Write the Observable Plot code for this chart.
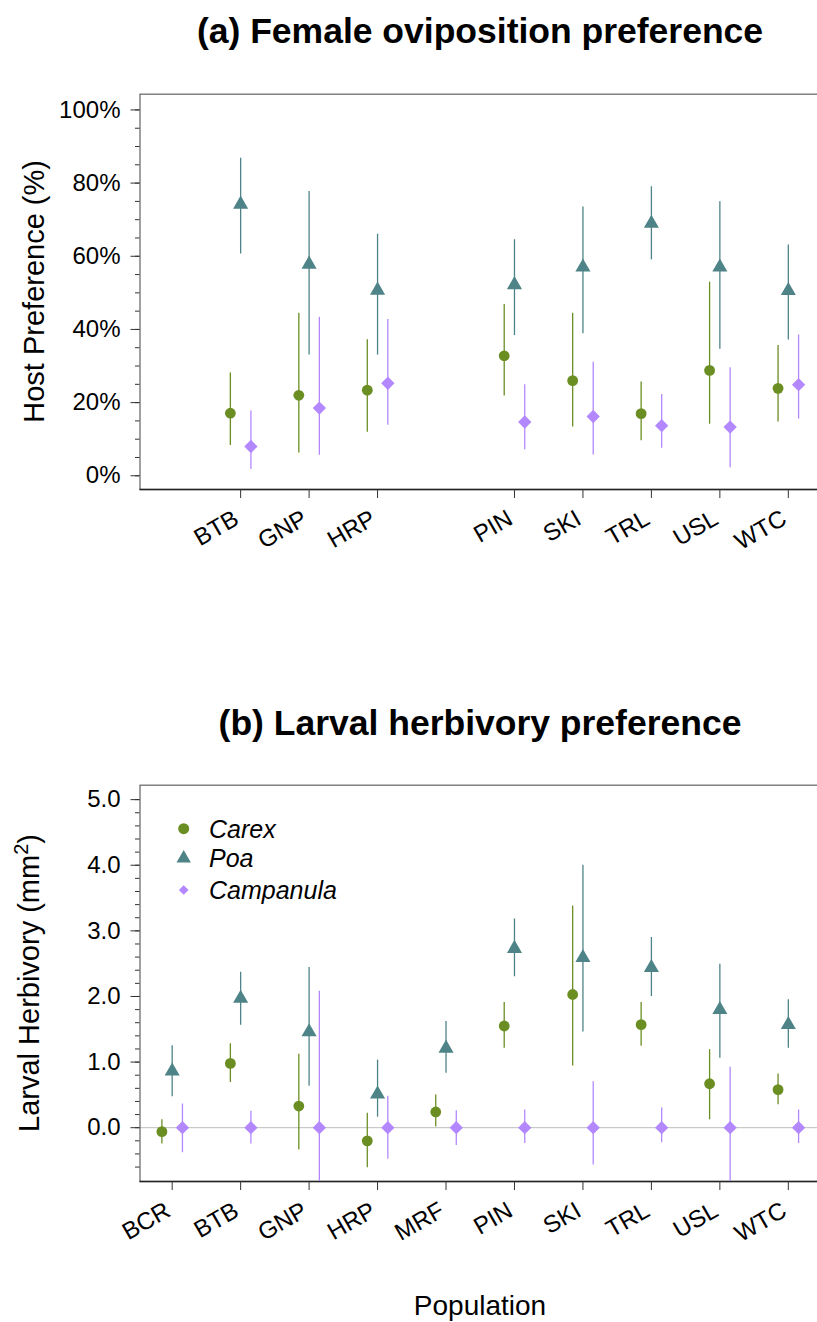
<!DOCTYPE html>
<html><head><meta charset="utf-8">
<script src="https://cdn.jsdelivr.net/npm/d3@7"></script>
<script src="https://cdn.jsdelivr.net/npm/@observablehq/plot@0.6"></script>
<style>
html,body{margin:0;padding:0;background:#fff;overflow:hidden}
#page{position:relative;width:817px;height:1322px;overflow:hidden;background:#fff;font-family:"Liberation Sans",Arial,sans-serif}
#page svg{position:absolute;left:0;max-width:none !important}
</style></head><body><div id="page"></div>
<script>
// ---------------- data ----------------
const populations = ["BCR","BTB","GNP","HRP","MRF","PIN","SKI","TRL","USL","WTC"];
const oviPopulations = ["BTB","GNP","HRP","PIN","SKI","TRL","USL","WTC"];
const hosts = ["Carex","Poa","Campanula"];

// (a) female oviposition preference, %
const oviCarex   = [17.1, 22.0, 23.4, 32.8, 26.0, 17.0, 28.8, 23.9];
const oviCarexLo = [ 8.3,  6.2, 11.9, 21.8, 13.3,  9.6, 14.1, 14.7];
const oviCarexHi = [28.1, 44.4, 37.2, 46.8, 44.4, 25.6, 52.9, 35.6];
const oviPoa     = [74.2, 57.8, 50.7, 52.2, 57.0, 69.0, 57.0, 50.6];
const oviPoaLo   = [60.6, 33.0, 33.0, 38.3, 38.8, 59.0, 34.6, 37.1];
const oviPoaHi   = [86.8, 77.7, 66.0, 64.5, 73.5, 79.0, 74.9, 63.1];
const oviCamp    = [ 8.0, 18.5, 25.3, 14.7, 16.2, 13.7, 13.3, 24.9];
const oviCampLo  = [ 1.7,  5.6, 13.8,  7.1,  5.7,  7.5,  2.2, 15.5];
const oviCampHi  = [17.7, 43.3, 42.7, 24.9, 31.0, 22.2, 29.5, 38.5];

// (b) larval herbivory, mm^2
const larCarex   = [-0.06, 0.98, 0.33, -0.20, 0.24, 1.55, 2.03, 1.57, 0.67, 0.58];
const larCarexLo = [-0.25, 0.69, -0.34, -0.61, 0.01, 1.21, 0.94, 1.24, 0.12, 0.35];
const larCarexHi = [ 0.12, 1.28, 1.12,  0.22, 0.50, 1.91, 3.38, 1.91, 1.19, 0.82];
const larPoa     = [ 0.86, 1.97, 1.46,  0.51, 1.21, 2.73, 2.59, 2.44, 1.80, 1.57];
const larPoaLo   = [ 0.47, 1.56, 0.63,  0.16, 0.83, 2.30, 1.46, 2.00, 1.06, 1.21];
const larPoaHi   = [ 1.25, 2.37, 2.44,  1.03, 1.62, 3.18, 4.00, 2.90, 2.49, 1.95];
const larCamp    = [ 0, 0, 0, 0, 0, 0, 0, 0, 0, 0];
const larCampLo  = [-0.38, -0.25, -1.00, -0.48, -0.27, -0.24, -0.57, -0.23, -1.00, -0.24];
const larCampHi  = [ 0.36,  0.25,  2.08,  0.48,  0.26,  0.27,  0.70,  0.30,  0.92,  0.27];

const oviYTicks = [0, 20, 40, 60, 80, 100];
const larYTicks = [0, 1, 2, 3, 4, 5];

// ---------------- styles ----------------
const colors  = ["#6b8e23", "#4e8387", "#b388ff"];
const symbols = ["circle", "triangle", "diamond2"];
const offsets = [-0.15, 0, 0.15];
const radii   = [5.4, 5.6, 6.0];
const FONT = "Liberation Sans, Arial, Helvetica, sans-serif";

function buildRows(pops, series) {
  const rows = [];
  series.forEach(([v, lo, hi], k) => {
    pops.forEach((p, j) => rows.push({
      pop: p, host: hosts[k],
      xi: populations.indexOf(p) + 1 + offsets[k],
      v: v[j], lo: lo[j], hi: hi[j]
    }));
  });
  return rows;
}

const oviRows = buildRows(oviPopulations, [[oviCarex, oviCarexLo, oviCarexHi], [oviPoa, oviPoaLo, oviPoaHi], [oviCamp, oviCampLo, oviCampHi]]);
const larRows = buildRows(populations, [[larCarex, larCarexLo, larCarexHi], [larPoa, larPoaLo, larPoaHi], [larCamp, larCampLo, larCampHi]]);

const W = 824, ML = 139.5, MR = 4;
const xDomain = [0.53, 10.47];

function panel({rows, pops, height, marginTop, marginBottom, yDomain, yTicks, yMinor, yFormat, zeroLine}) {
  const tickRows = pops.map(p => ({pop: p, xi: populations.indexOf(p) + 1}));
  return Plot.plot({
    width: W, height, marginLeft: ML, marginRight: MR, marginTop, marginBottom,
    x: {domain: xDomain, axis: null, label: null},
    y: {domain: yDomain, axis: null, label: null},
    color: {domain: hosts, range: colors},
    symbol: {domain: hosts, range: symbols},
    style: {fontFamily: FONT, fontSize: "24px", color: "black", background: "transparent", overflow: "visible", maxWidth: "none"},
    marks: [
      zeroLine ? Plot.ruleY([0], {stroke: "#bdbdbd", strokeWidth: 1}) : null,
      Plot.frame({stroke: "#6e6e6e", strokeWidth: 1.3}),
      Plot.ruleY([yDomain[0]], {stroke: "#222", strokeWidth: 1.3}),
      Plot.axisY({ticks: yMinor, tickSize: 4.5, tickFormat: () => "", stroke: "#333", label: null}),
      Plot.axisY({ticks: yTicks, tickSize: 9, tickPadding: 10.5, tickFormat: yFormat, stroke: "#333", fill: "black", fontSize: 24, label: null}),
      Plot.axisX({ticks: tickRows.map(d => d.xi), tickSize: 9, tickFormat: () => "", stroke: "#333", label: null}),
      Plot.text(tickRows, {x: "xi", text: "pop", frameAnchor: "bottom", rotate: -30, textAnchor: "end", lineAnchor: "middle", dx: -4, dy: 27, fontSize: 24, fill: "black"}),
      Plot.ruleX(rows, {x: "xi", y1: "lo", y2: "hi", stroke: "host", strokeWidth: 1.3, clip: true}),
      ...hosts.map((h, k) => Plot.dot(rows.filter(d => d.host === h), {x: "xi", y: "v", symbol: "host", fill: "host", r: radii[k], stroke: "none"}))
    ]
  });
}

const page = document.getElementById("page");

const topPlot = panel({
  rows: oviRows, pops: oviPopulations, height: 560, marginTop: 93.7, marginBottom: 71,
  yDomain: [-3.75, 104.3], yTicks: oviYTicks, yMinor: d3.range(0, 101, 5), yFormat: d => d + "%"
});
topPlot.style.top = "0px";
topPlot.style.maxWidth = "none";
page.appendChild(topPlot);

const bottomPlot = panel({
  rows: larRows, pops: populations, height: 762, marginTop: 224.7, marginBottom: 141,
  yDomain: [-0.82, 5.22], yTicks: larYTicks, yMinor: d3.range(-3, 26).map(i => i * 0.2), yFormat: d3.format(".1f"), zeroLine: true
});
bottomPlot.style.top = "560px";
bottomPlot.style.maxWidth = "none";
page.appendChild(bottomPlot);

// ---------------- overlay texts & legend ----------------
const ov = d3.select(page).append("svg")
  .attr("width", 817).attr("height", 1322)
  .style("top", "0px").style("pointer-events", "none")
  .attr("font-family", FONT);

ov.append("text").attr("x", 480).attr("y", 42.5).attr("text-anchor", "middle")
  .attr("font-size", 35.5).attr("font-weight", "bold").text("(a) Female oviposition preference");
ov.append("text").attr("x", 480).attr("y", 734.5).attr("text-anchor", "middle")
  .attr("font-size", 35.5).attr("font-weight", "bold").text("(b) Larval herbivory preference");

ov.append("text").attr("transform", "translate(44,291.4) rotate(-90)").attr("text-anchor", "middle")
  .attr("font-size", 29).text("Host Preference (%)");

const yb = ov.append("text").attr("transform", "translate(38.5,983) rotate(-90)").attr("text-anchor", "middle")
  .attr("font-size", 29);
yb.append("tspan").text("Larval Herbivory (mm");
yb.append("tspan").attr("font-size", 20).attr("dy", -11).text("2");
yb.append("tspan").attr("dy", 11).text(")");

ov.append("text").attr("x", 480).attr("y", 1315).attr("text-anchor", "middle")
  .attr("font-size", 28).text("Population");

const legendY = [828.7, 858.3, 890];
const legendSym = [d3.symbolCircle, d3.symbolTriangle, d3.symbolDiamond2];
const legendSize = [95, 90, 60];
hosts.forEach((h, k) => {
  ov.append("path").attr("d", d3.symbol(legendSym[k], legendSize[k])())
    .attr("transform", `translate(183.7,${legendY[k]})`).attr("fill", colors[k]);
  ov.append("text").attr("x", 209).attr("y", legendY[k] + 9).attr("font-size", 25)
    .attr("font-style", "italic").text(h);
});
</script></body></html>
